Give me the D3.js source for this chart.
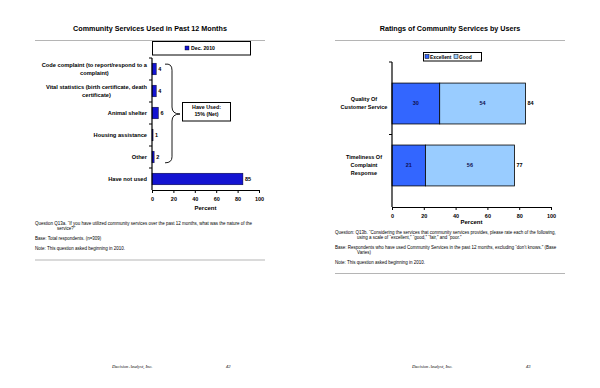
<!DOCTYPE html>
<html>
<head>
<meta charset="utf-8">
<script src="https://cdn.jsdelivr.net/npm/d3@7"></script>
<style>
  body { margin: 0; background: #fff; }
  svg { font-family: "Liberation Sans", Arial, sans-serif; display: block; }
  svg text { fill: #000; }
  .bold { font-weight: bold; }
  .note { font-size: 4.5px; }
  .foot { font-family: "Liberation Serif", "DejaVu Serif", serif; font-style: italic; font-size: 4.6px; }
</style>
</head>
<body>
<svg id="page" width="600" height="388"></svg>
<script>
// left page: services used
const usedCats = [
  ["Code complaint (to report/respond to a", "complaint)"],
  ["Vital statistics (birth certificate, death", "certificate)"],
  ["Animal shelter"],
  ["Housing assistance"],
  ["Other"],
  ["Have not used"]
];
const usedVals = [4, 4, 6, 1, 2, 85];
const usedSeries = "Dec. 2010";
const netLabel = ["Have Used:", "15% (Net)"];

// right page: ratings
const rateCats = [["Quality Of", "Customer Service"], ["Timeliness Of", "Complaint", "Response"]];
const rateSeries = ["Excellent", "Good"];
const excellentVals = [30, 21];
const goodVals = [54, 56];
const totalVals = [84, 77];

const xTicks = [0, 20, 40, 60, 80, 100];

const notesLeft = [
  ["Question Q13a. \u201cIf you have utilized community services over the past 12 months, what was the nature of the", "service?\u201d"],
  ["Base:  Total respondents. (n=309)"],
  ["Note:  This question asked beginning in 2010."]
];
const notesRight = [
  ["Question:  Q13b.  \u201cConsidering the services that community services provides, please rate each of the following,", "using a scale of \u201cexcellent,\u201d \u201cgood,\u201d \u201cfair,\u201d and \u201cpoor.\u201d"],
  ["Base:  Respondents who have used Community Services in the past 12 months, excluding \u201cdon't knows.\u201d  (Base", "Varies)"],
  ["Note:  This question asked beginning in 2010."]
];

const svg = d3.select("#page");

function pageFrame(cx, title, ruleY2, notes, noteY, indent, pageNo) {
  svg.append("text").attr("class", "bold").attr("x", cx).attr("y", 31)
    .attr("text-anchor", "middle").attr("font-size", 7.2).text(title);
  svg.append("line").attr("x1", cx - 115).attr("x2", cx + 115).attr("y1", 40.5).attr("y2", 40.5)
    .attr("stroke", "#b5b5b5").attr("stroke-width", 1);
  svg.append("line").attr("x1", cx - 115).attr("x2", cx + 115).attr("y1", ruleY2).attr("y2", ruleY2)
    .attr("stroke", "#b5b5b5").attr("stroke-width", 1);
  let y = noteY;
  notes.forEach(lines => {
    lines.forEach((ln, i) => {
      svg.append("text").attr("class", "note").attr("x", cx - 115 + (i ? indent : 0)).attr("y", y).text(ln);
      y += 5;
    });
    y += 5;
  });
  svg.append("text").attr("class", "foot").attr("x", cx - 38).attr("y", 368).text("Decision Analyst, Inc.");
  svg.append("text").attr("class", "foot").attr("x", cx + 76).attr("y", 368).text(pageNo);
}

function xAxis(x, yBase, labelY, titleY) {
  const g = svg.append("g").attr("transform", `translate(0,${yBase})`)
    .call(d3.axisBottom(x).tickValues(xTicks).tickSize(3).tickSizeOuter(0));
  g.select(".domain").attr("stroke", "#000").attr("stroke-width", 1.2);
  g.selectAll(".tick line").attr("stroke", "#000");
  g.selectAll(".tick text").attr("class", "bold").attr("font-size", 5.5)
    .attr("font-family", "Liberation Sans, Arial, sans-serif").attr("y", labelY - yBase).attr("dy", "0.32em");
  svg.append("text").attr("class", "bold").attr("font-size", 6).attr("text-anchor", "middle")
    .attr("x", (x.range()[0] + x.range()[1]) / 2).attr("y", titleY).text("Percent");
}

function yAxis(y, x0) {
  const [a, b] = y.range();
  svg.append("line").attr("x1", x0).attr("x2", x0).attr("y1", a).attr("y2", b)
    .attr("stroke", "#000").attr("stroke-width", 1.2);
  const edges = [a].concat(y.domain().map(d => y(d) - y.step() * y.paddingInner() / 2 + y.step()));
  svg.selectAll(null).data(edges.slice(0, -1)).enter().append("line")
    .attr("x1", x0 - 3).attr("x2", x0).attr("y1", d => d).attr("y2", d => d)
    .attr("stroke", "#000");
}

// ---------- left chart ----------
pageFrame(150, "Community Services Used in Past 12 Months", 260, notesLeft, 225, 22, "42");

const xL = d3.scaleLinear().domain([0, 100]).range([152, 259]);
const yL = d3.scaleBand().domain(d3.range(usedCats.length)).range([58, 190])
  .paddingInner(0.47).paddingOuter(0.235);

svg.append("rect").attr("x", 152.5).attr("y", 41.5).attr("width", 98).attr("height", 13.5)
  .attr("fill", "#fff").attr("stroke", "#000");
svg.append("rect").attr("x", 185).attr("y", 46).attr("width", 4).attr("height", 4)
  .attr("fill", "#1414d2").attr("stroke", "#000").attr("stroke-width", 0.4);
svg.append("text").attr("class", "bold").attr("font-size", 5.2).attr("x", 191).attr("y", 50).text(usedSeries);

svg.selectAll(".barL").data(usedVals).enter().append("rect").attr("class", "barL")
  .attr("x", xL(0)).attr("y", (d, i) => yL(i)).attr("width", d => xL(d) - xL(0))
  .attr("height", yL.bandwidth()).attr("fill", "#1414d2").attr("stroke", "#000").attr("stroke-width", 0.4);
svg.selectAll(".valL").data(usedVals).enter().append("text").attr("class", "bold")
  .attr("font-size", 5.5).attr("x", d => xL(d) + 2).attr("y", (d, i) => yL(i) + yL.bandwidth() / 2)
  .attr("dy", "0.35em").text(d => d);

usedCats.forEach((lines, i) => {
  const cy = yL(i) + yL.bandwidth() / 2 - (lines.length - 1) * 3.6;
  const t = svg.append("g");
  const texts = lines.map((ln, j) => t.append("text").attr("class", "bold").attr("font-size", 5.7)
    .attr("y", cy + j * 7.2).attr("dy", "0.35em").text(ln));
  const w = d3.max(texts, s => s.node().getComputedTextLength());
  texts.forEach(s => s.attr("x", 147 - w / 2).attr("text-anchor", "middle"));
});

yAxis(yL, 152);
xAxis(xL, 190, 199.5, 210);

// brace for net
const bTop = yL(0), bBot = yL(4) + yL.bandwidth(), bMid = yL(2) + yL.bandwidth() / 2 + 1;
const bp = d3.path();
bp.moveTo(165, bTop + 1);
bp.quadraticCurveTo(172, bTop, 172, bTop + 7);
bp.lineTo(172, bMid - 7);
bp.quadraticCurveTo(172, bMid, 180, bMid);
bp.quadraticCurveTo(172, bMid, 172, bMid + 7);
bp.lineTo(172, bBot - 6);
bp.quadraticCurveTo(172, bBot, 165, bBot);
svg.append("path").attr("d", bp.toString()).attr("fill", "none").attr("stroke", "#000").attr("stroke-width", 0.9);

svg.append("rect").attr("x", 182.5).attr("y", 102.5).attr("width", 48).attr("height", 18.5)
  .attr("fill", "#fff").attr("stroke", "#000");
netLabel.forEach((ln, j) => svg.append("text").attr("class", "bold").attr("font-size", 5.3)
  .attr("x", 206.5).attr("y", 108.5 + j * 7).attr("text-anchor", "middle").text(ln));

// ---------- right chart ----------
pageFrame(450, "Ratings of Community Services by Users", 273.5, notesRight, 234, 22, "43");

const xR = d3.scaleLinear().domain([0, 100]).range([392, 551]);
const yR = d3.scaleBand().domain(d3.range(rateCats.length)).range([62, 207]).padding(0.34);
const rateColors = ["#3366ff", "#99ccff"];

svg.append("rect").attr("x", 423.5).attr("y", 52.5).attr("width", 58).attr("height", 8.5)
  .attr("fill", "#fff").attr("stroke", "#000");
[[425, rateSeries[0]], [454, rateSeries[1]]].forEach(([lx, name], k) => {
  svg.append("rect").attr("x", lx).attr("y", 54.5).attr("width", 4).attr("height", 4)
    .attr("fill", rateColors[k]).attr("stroke", "#000").attr("stroke-width", 0.5);
  svg.append("text").attr("class", "bold").attr("font-size", 4.9).attr("x", lx + 5).attr("y", 58.6).text(name);
});

const stack = rateCats.map((c, i) => [[0, excellentVals[i]], [excellentVals[i], excellentVals[i] + goodVals[i]]]);
stack.forEach((segs, i) => {
  segs.forEach(([a, b], k) => {
    svg.append("rect").attr("x", xR(a)).attr("y", yR(i)).attr("width", xR(b) - xR(a))
      .attr("height", yR.bandwidth()).attr("fill", rateColors[k]).attr("stroke", "#000").attr("stroke-width", 0.8);
    svg.append("text").attr("class", "bold").attr("font-size", 5.5).style("fill", "#101050")
      .attr("x", (xR(a) + xR(b)) / 2).attr("y", yR(i) + yR.bandwidth() / 2).attr("dy", "0.35em")
      .attr("text-anchor", "middle").text(b - a);
  });
  svg.append("text").attr("class", "bold").attr("font-size", 5.5)
    .attr("x", xR(totalVals[i]) + 2).attr("y", yR(i) + yR.bandwidth() / 2).attr("dy", "0.35em").text(totalVals[i]);
});

rateCats.forEach((lines, i) => {
  const cy = yR(i) + yR.bandwidth() / 2 - (lines.length - 1) * 4;
  lines.forEach((ln, j) => svg.append("text").attr("class", "bold").attr("font-size", 5.5)
    .attr("x", 364).attr("y", cy + j * 8).attr("dy", "0.35em").attr("text-anchor", "middle").text(ln));
});

yAxis(yR, 392);
xAxis(xR, 207, 216, 223.5);
</script>
</body>
</html>
